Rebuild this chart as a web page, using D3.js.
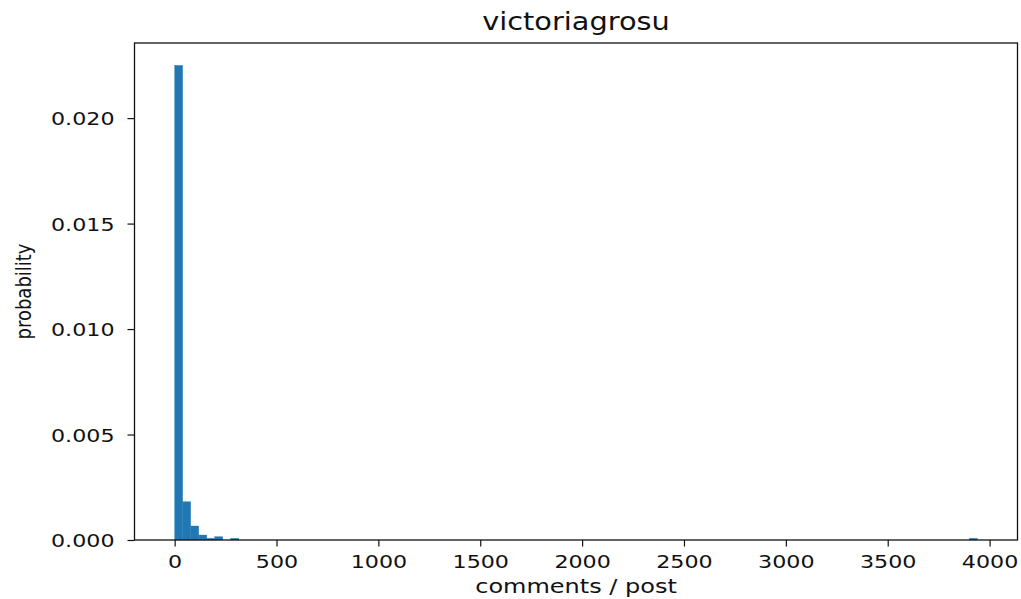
<!DOCTYPE html>
<html>
<head>
<meta charset="utf-8">
<script src="https://cdn.jsdelivr.net/npm/d3@7"></script>
<style>
  body { margin: 0; background: #fff; }
  text { font-family: "DejaVu Sans", sans-serif; fill: #111; }
  .axis path, .axis line { stroke: #111; }
</style>
</head>
<body>
<svg id="chart" width="1021" height="599"></svg>
<script>
// histogram of comments per post, 100 bins from 0 to 3940
let binWidth = 39.4;
let binIndex = [0, 1, 2, 3, 4, 5, 7, 99];
let density = [0.02250, 0.001816, 0.000664, 0.000237, 0.0000806, 0.000158, 0.0000806, 0.0000806];
let xTicks = [0, 500, 1000, 1500, 2000, 2500, 3000, 3500, 4000];
let yTicks = [0, 0.005, 0.010, 0.015, 0.020];
let yTop = 0.02356;

let title = "victoriagrosu";
let xLabel = "comments / post";
let yLabel = "probability";

let plotLeft = 134.5, plotRight = 1017.5, plotTop = 43, plotBottom = 540;
let stretch = 1.2; // picture is wider than tall

let xMin = 0, xMax = binWidth * 100;
let pad = (xMax - xMin) * 0.05;

let xScale = d3.scaleLinear()
  .domain([xMin - pad, xMax + pad])
  .range([plotLeft, plotRight]);
let yScale = d3.scaleLinear()
  .domain([0, yTop])
  .range([plotBottom, plotTop]);

let svg = d3.select("#chart");

let bars = binIndex.map((b, i) => ({ x0: b * binWidth, x1: (b + 1) * binWidth, v: density[i] }));

svg.selectAll("rect.bar")
  .data(bars)
  .enter()
  .append("rect")
  .attr("class", "bar")
  .attr("x", d => xScale(d.x0))
  .attr("width", d => xScale(d.x1) - xScale(d.x0))
  .attr("y", d => yScale(d.v))
  .attr("height", d => plotBottom - yScale(d.v))
  .attr("fill", "#1f77b4")
  .attr("stroke", "#1f77b4")
  .attr("stroke-width", 0.3);

//x-axis
let xAxis = d3.axisBottom(xScale).tickValues(xTicks).tickSize(6.5).tickSizeOuter(0).tickFormat(d3.format("d"));
let gx = svg.append("g")
  .attr("class", "axis")
  .attr("transform", `translate(0,${plotBottom})`)
  .call(xAxis);
gx.select(".domain").remove();
gx.selectAll("line").attr("stroke-width", 1.2);
gx.selectAll("text")
  .attr("y", 28)
  .attr("dy", 0)
  .attr("transform", `scale(${stretch},1)`)
  .style("font-size", "18.5px");

//y-axis
let yAxis = d3.axisLeft(yScale).tickValues(yTicks).tickSize(7).tickSizeOuter(0).tickFormat(d3.format(".3f"));
let gy = svg.append("g")
  .attr("class", "axis")
  .attr("transform", `translate(${plotLeft},0)`)
  .call(yAxis);
gy.select(".domain").remove();
gy.selectAll("line").attr("stroke-width", 1.2);
gy.selectAll("text")
  .attr("x", 0)
  .attr("dy", "0.36em")
  .attr("transform", `translate(-20,0) scale(${stretch},1)`)
  .style("font-size", "18.5px");

//frame
svg.append("rect")
  .attr("x", plotLeft)
  .attr("y", plotTop)
  .attr("width", plotRight - plotLeft)
  .attr("height", plotBottom - plotTop)
  .attr("fill", "none")
  .attr("stroke", "#111")
  .attr("stroke-width", 1.3);

//title and labels
let mid = (plotLeft + plotRight) / 2;
svg.append("text")
  .attr("text-anchor", "middle")
  .attr("transform", `translate(${mid},30) scale(${stretch},1)`)
  .style("font-size", "24px")
  .text(title);

svg.append("text")
  .attr("text-anchor", "middle")
  .attr("transform", `translate(${mid},593) scale(${stretch},1)`)
  .style("font-size", "20px")
  .text(xLabel);

svg.append("text")
  .attr("text-anchor", "middle")
  .attr("transform", `translate(31,${(plotTop + plotBottom) / 2}) scale(${stretch},1) rotate(-90)`)
  .style("font-size", "18px")
  .text(yLabel);
</script>
</body>
</html>
